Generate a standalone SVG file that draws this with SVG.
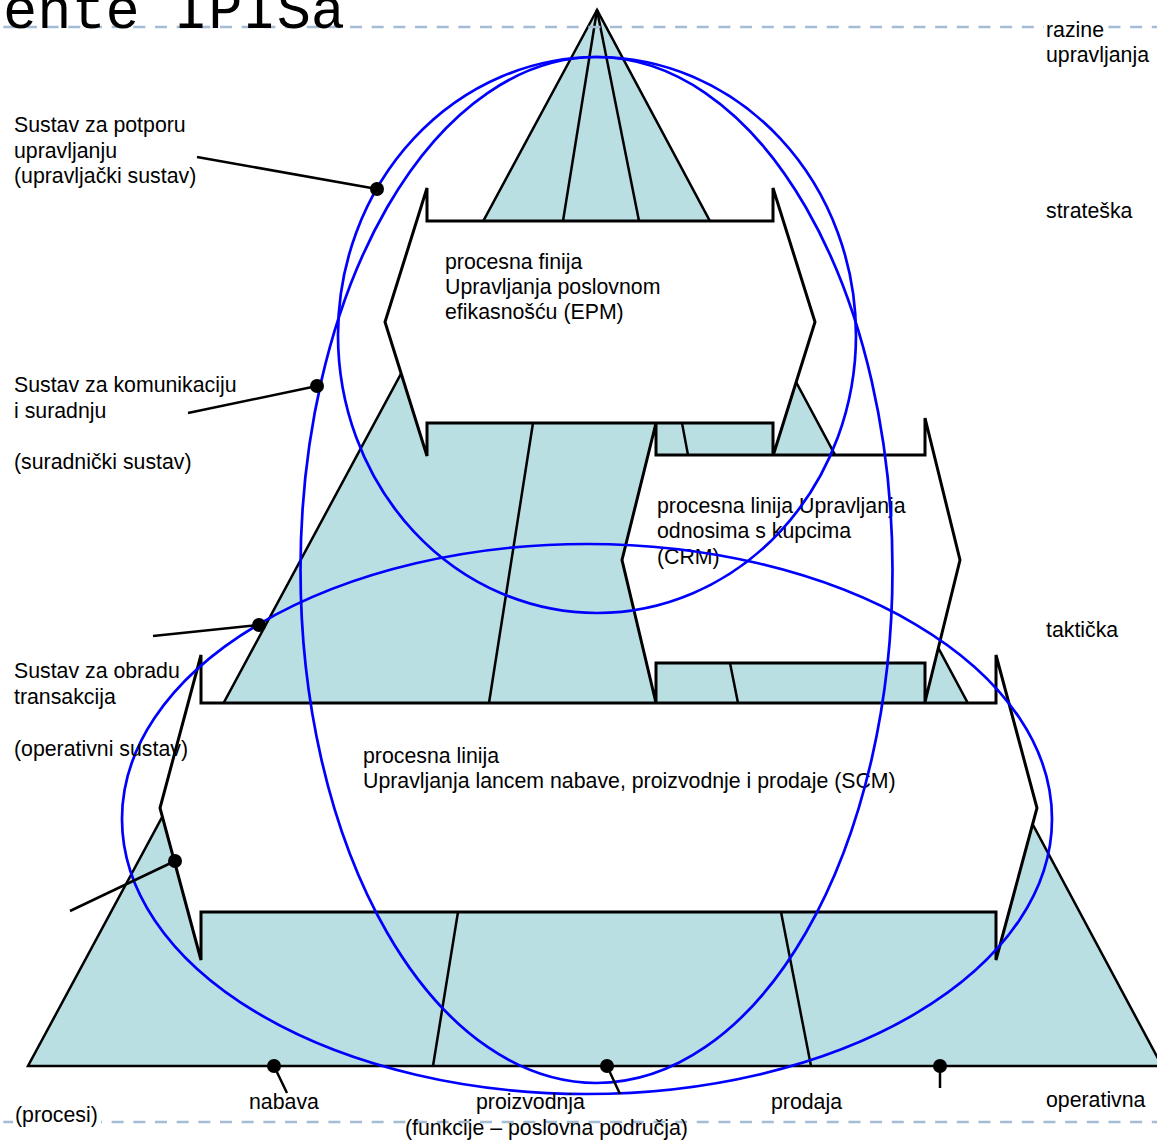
<svg xmlns="http://www.w3.org/2000/svg" width="1157" height="1141" viewBox="0 0 1157 1141">
<style>
text{font-family:"Liberation Sans",Arial,sans-serif;font-size:21.3px;fill:#000}
.title{font-family:"Liberation Mono","Courier New",monospace;font-size:57px}
.dash{stroke:#a5bdd4;stroke-width:2.7;stroke-dasharray:12 9.67;fill:none}
.ln{stroke:#000;stroke-width:2.5;fill:none}
.arrow{fill:#fff;stroke:#000;stroke-width:3;stroke-linejoin:miter}
.sys{fill:none;stroke:#0000ff;stroke-width:2.7}
.dot{fill:#000}
</style>
<rect width="1157" height="1141" fill="#fff"/>
<g id="pyramid">
<polygon points="597,10 28,1066 1162,1066" fill="#badfe3" stroke="#000" stroke-width="2.5" stroke-linejoin="miter"/>
<line class="ln" x1="597" y1="10" x2="563" y2="221"/>
<line class="ln" x1="597" y1="10" x2="639" y2="221"/>
<line class="ln" x1="533" y1="423" x2="489" y2="703"/>
<line class="ln" x1="682" y1="423" x2="688" y2="455"/>
<line class="ln" x1="730" y1="663" x2="738" y2="703"/>
<line class="ln" x1="458" y1="912" x2="433" y2="1066"/>
<line class="ln" x1="781" y1="912" x2="811" y2="1066"/>
</g>
<g id="guides">
<line class="dash" x1="3.3" y1="27" x2="1157" y2="27"/>
<line class="dash" x1="3.3" y1="1122" x2="1157" y2="1122"/>
</g>
<text class="title" x="3" y="27.5">ente IPISa</text>
<g id="epm">
<polygon class="arrow" points="427,188 427,221 773,221 773,188 815,322 773,456 773,423 427,423 427,456 385,322"/>
<text x="445" y="269">procesna finija</text>
<text x="445" y="294">Upravljanja poslovnom</text>
<text x="445" y="319">efikasnošću (EPM)</text>
</g>
<g id="crm">
<polygon class="arrow" points="656,423 656,455 925,455 925,418 960,560 925,702 925,663 656,663 656,703 622,560"/>
<text x="657" y="513">procesna linija Upravljanja</text>
<text x="657" y="538">odnosima s kupcima</text>
<text x="657" y="564">(CRM)</text>
</g>
<g id="scm">
<polygon class="arrow" points="201,703 996,703 996,655 1037,808 996,960 996,912 201,912 201,960 160,808 201,655"/>
<text x="363" y="763">procesna linija</text>
<text x="363" y="788">Upravljanja lancem nabave, proizvodnje i prodaje (SCM)</text>
</g>
<g id="systems">
<ellipse id="sys-upravljacki" class="sys" cx="597" cy="335" rx="259" ry="278"/>
<ellipse id="sys-suradnicki" class="sys" cx="596.5" cy="570" rx="296" ry="513"/>
<ellipse id="sys-operativni" class="sys" cx="587" cy="819" rx="465" ry="275"/>
</g>
<g id="connectors">
<line class="ln" x1="197" y1="157" x2="377" y2="189"/>
<circle class="dot" cx="377" cy="189" r="7"/>
<line class="ln" x1="188" y1="413" x2="317" y2="386"/>
<circle class="dot" cx="317" cy="386" r="7"/>
<line class="ln" x1="153" y1="636" x2="259" y2="625"/>
<circle class="dot" cx="259" cy="625" r="7"/>
<line class="ln" x1="70" y1="911" x2="175" y2="861"/>
<circle class="dot" cx="175" cy="861" r="7"/>
<line class="ln" x1="274" y1="1066" x2="287" y2="1093"/>
<circle class="dot" cx="274" cy="1066" r="7"/>
<line class="ln" x1="607" y1="1066" x2="620" y2="1094"/>
<circle class="dot" cx="607" cy="1066" r="7"/>
<line class="ln" x1="940" y1="1066" x2="940" y2="1088"/>
<circle class="dot" cx="940" cy="1066" r="7"/>
</g>
<g id="label-upravljacki">
<text x="14" y="132">Sustav za potporu</text>
<text x="14" y="157.5">upravljanju</text>
<text x="14" y="183">(upravljački sustav)</text>
</g>
<g id="label-suradnicki">
<text x="14" y="392">Sustav za komunikaciju</text>
<text x="14" y="417.5">i suradnju</text>
<text x="14" y="469">(suradnički sustav)</text>
</g>
<g id="label-operativni">
<text x="14" y="678">Sustav za obradu</text>
<text x="14" y="704">transakcija</text>
<text x="14" y="756">(operativni sustav)</text>
</g>
<g id="levels">
<rect x="1044" y="18" width="63" height="20" fill="#fff"/>
<text x="1046" y="37">razine</text>
<text x="1046" y="62">upravljanja</text>
<text x="1046" y="218">strateška</text>
<text x="1046" y="637">taktička</text>
<text x="1046" y="1107">operativna</text>
</g>
<g id="functions">
<rect x="13" y="1108" width="88" height="20" fill="#fff"/>
<text x="15" y="1122">(procesi)</text>
<text x="249" y="1109">nabava</text>
<text x="476" y="1109">proizvodnja</text>
<text x="405" y="1135">(funkcije – poslovna područja)</text>
<text x="771" y="1109">prodaja</text>
</g>
</svg>
